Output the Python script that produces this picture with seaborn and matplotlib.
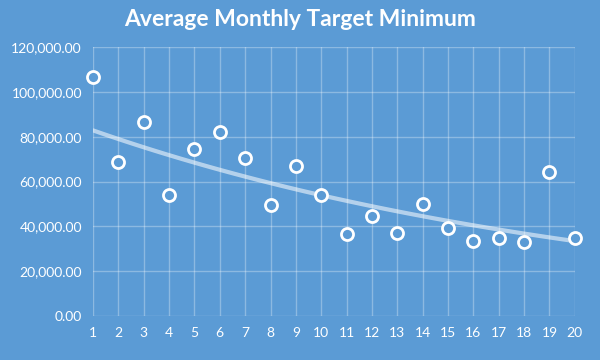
import numpy as np
import pandas as pd
import seaborn as sns
import matplotlib.pyplot as plt

# data
months = list(range(1, 21))
target_min = [106600, 68700, 86500, 54000, 74500, 82100, 70500, 49500, 66900, 54000,
              36600, 44600, 37000, 50000, 39300, 33500, 34800, 33000, 64200, 34800]
y_ticks = [0, 20000, 40000, 60000, 80000, 100000, 120000]

bg = "#5B9BD5"

df = pd.DataFrame({"Month": months, "Target": target_min})

# exponential trendline (like Excel)
b, a = np.polyfit(df["Month"], np.log(df["Target"]), 1)
trend_x = np.linspace(1, 20, 100)
trend = pd.DataFrame({"Month": trend_x, "Trend": np.exp(a + b * trend_x)})

sns.set_theme(style="white")
plt.rcParams["font.family"] = ["Lato", "DejaVu Sans"]

fig = plt.figure(figsize=(6, 3.6), dpi=100, facecolor=bg)
ax = fig.add_axes([0.155, 0.122, 0.803, 0.747])
ax.set_facecolor(bg)

sns.lineplot(data=trend, x="Month", y="Trend", ax=ax, color="white",
             alpha=0.55, linewidth=3, zorder=2)
sns.scatterplot(data=df, x="Month", y="Target", ax=ax, s=75, color=bg,
                edgecolor="white", linewidth=2, zorder=3, clip_on=False)

ax.set_xlim(1, 20)
ax.set_ylim(0, 120000)
ax.set_xticks(months)
ax.set_yticks(y_ticks)
ax.set_yticklabels([f"{v:,.2f}" for v in y_ticks])
ax.grid(True, color="white", alpha=0.3, linewidth=1)
ax.set_axisbelow(True)
for s in ax.spines.values():
    s.set_visible(False)
ax.tick_params(colors="white", labelsize=10, length=0, pad=8)
ax.set_xlabel("")
ax.set_ylabel("")

fig.suptitle("Average Monthly Target Minimum", color="white", fontsize=16.5,
             fontweight="bold", y=0.975)

plt.savefig("out.png", dpi=100, facecolor=bg)
